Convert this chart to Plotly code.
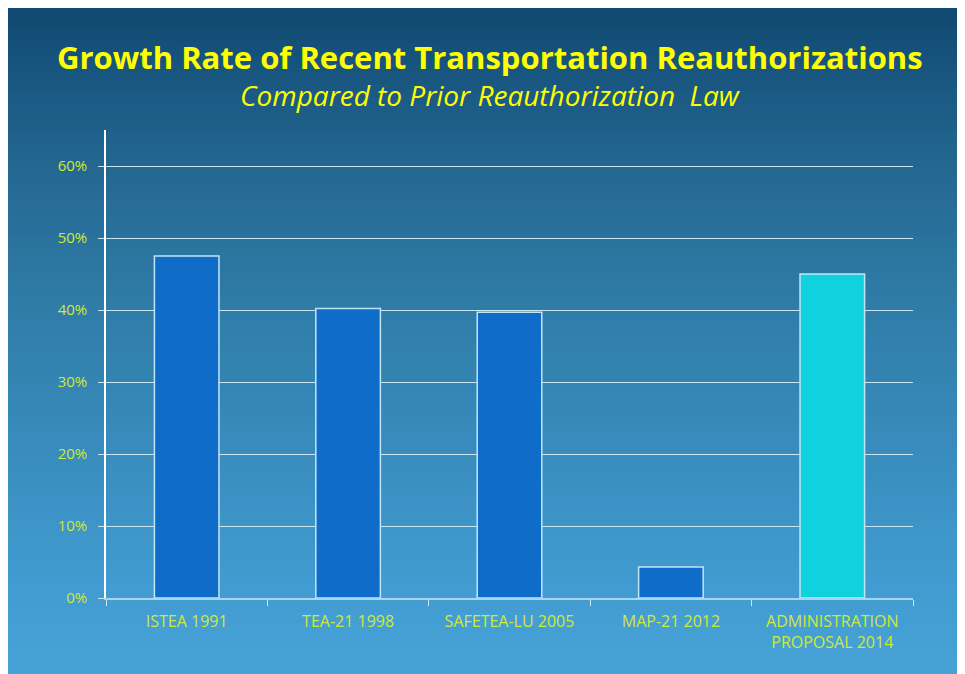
import plotly.graph_objects as go

categories = ["ISTEA 1991", "TEA-21 1998", "SAFETEA-LU 2005", "MAP-21 2012",
              "ADMINISTRATION<br>PROPOSAL 2014"]
growth = [0.475, 0.402, 0.397, 0.043, 0.450]
bar_colors = ["#0F6CC8", "#0F6CC8", "#0F6CC8", "#0F6CC8", "#10D2DE"]

# page body has an 8px margin, so the figure starts at (8, 8) on screen
OFF = 8
W, H = 965 - OFF, 674 - OFF
L, R, T, B = 106 - OFF, 52, 130 - OFF, 76
pw, ph = W - L - R, H - T - B

def px_to_paper_x(px):  # px in screen coords
    return (px - OFF - L) / pw

def px_to_paper_y(py):
    return (H - B - (py - OFF)) / ph

# background gradient stops (screen pixel y, rgb)
stops = [(8, (16, 73, 114)), (165, (35, 103, 145)), (290, (46, 122, 165)),
         (580, (65, 155, 208)), (674, (71, 162, 214))]

def color_at(y):
    for (y0, c0), (y1, c1) in zip(stops[:-1], stops[1:]):
        if y0 <= y <= y1:
            t = (y - y0) / (y1 - y0)
            return "rgb(%d,%d,%d)" % tuple(round(a + (b - a) * t) for a, b in zip(c0, c1))
    return "rgb(%d,%d,%d)" % stops[-1][1]

shapes = []
n = 96
top, bot = 8, 675
step = (bot - top) / n
for i in range(n):
    y0 = top + i * step
    y1 = y0 + step + 1
    shapes.append(dict(type="rect", xref="paper", yref="paper", layer="below",
                       x0=px_to_paper_x(7), x1=px_to_paper_x(967),
                       y0=px_to_paper_y(min(y1, bot)), y1=px_to_paper_y(y0 - 1),
                       fillcolor=color_at(y0 + step / 2), line=dict(width=0)))

fig = go.Figure(go.Bar(
    x=categories, y=growth, width=0.4,
    marker=dict(color=bar_colors, line=dict(color="#BFE6F7", width=1.5)),
))

tick_color = "#D0E83C"
fig.update_layout(
    width=W, height=H,
    margin=dict(l=L, r=R, t=T, b=B),
    paper_bgcolor="rgb(16,73,114)", plot_bgcolor="rgba(0,0,0,0)",
    shapes=shapes,
    showlegend=False,
    font=dict(family="Open Sans", color=tick_color),
    annotations=[
        dict(text="<b>Growth Rate of Recent Transportation Reauthorizations</b>",
             xref="paper", yref="paper", x=px_to_paper_x(490), y=px_to_paper_y(57),
             xanchor="center", yanchor="middle", showarrow=False,
             font=dict(family="Open Sans", size=31, color="#FFFF00")),
        dict(text="<i>Compared to Prior Reauthorization  Law</i>",
             xref="paper", yref="paper", x=px_to_paper_x(490), y=px_to_paper_y(95),
             xanchor="center", yanchor="middle", showarrow=False,
             font=dict(family="Open Sans", size=28, color="#FFFF00")),
    ],
)
fig.update_yaxes(
    range=[0, 0.65], dtick=0.1, tickformat=".0%",
    showgrid=True, gridcolor="#C9E6F5", gridwidth=1,
    showline=True, linecolor="#FFFFFF", linewidth=1.5,
    ticks="outside", ticklen=6, tickcolor="#C9E6F5",
    ticklabelstandoff=8,
    tickfont=dict(family="Open Sans", size=15, color=tick_color),
    zeroline=False,
)
fig.update_xaxes(
    showline=True, linecolor="#A9D6EE", linewidth=2,
    ticks="outside", tickson="boundaries", ticklen=6, tickcolor="#C9E6F5",
    ticklabelstandoff=8,
    tickfont=dict(family="Open Sans", size=16, color=tick_color),
    showgrid=False,
)

fig.write_html("out.html")
